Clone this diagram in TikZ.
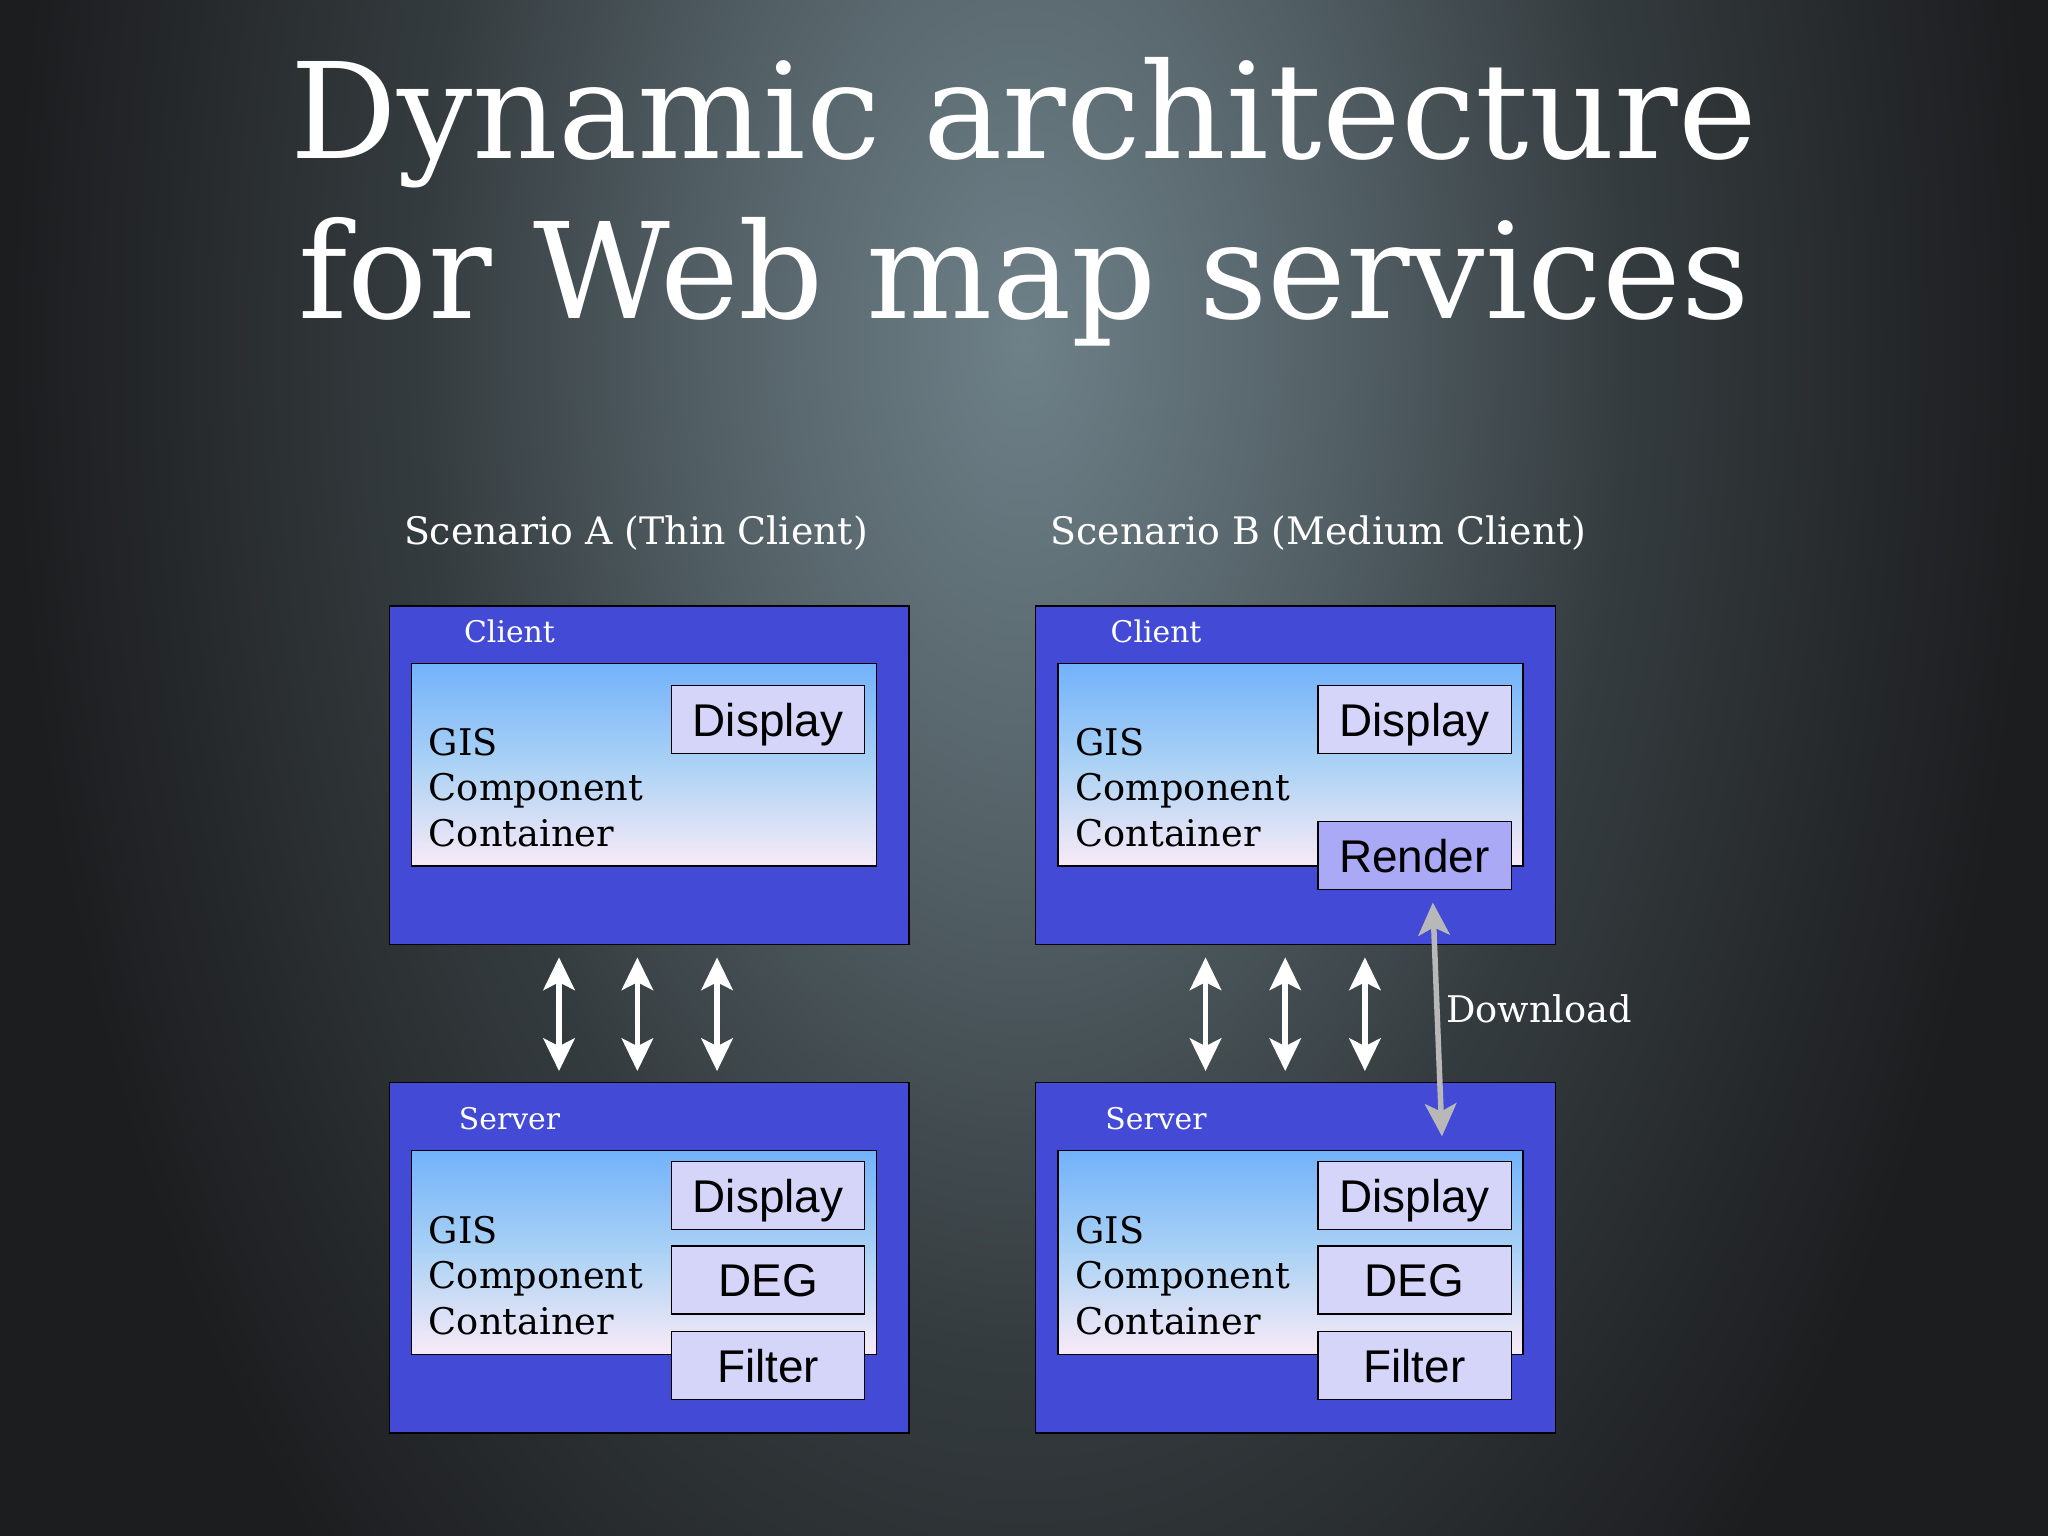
\documentclass[tikz,border=0pt]{standalone}
\usepackage{fontspec}
\setmainfont{DejaVu Serif}
\newfontfamily\helv{Liberation Sans}
\usetikzlibrary{arrows.meta}
\definecolor{bgA}{HTML}{6E8088}
\definecolor{bgB}{HTML}{56646A}
\definecolor{bgC}{HTML}{343B3E}
\definecolor{bgD}{HTML}{1C1D1F}
\definecolor{boxblue}{HTML}{434BD6}
\definecolor{gradtop}{HTML}{72B2FA}
\definecolor{gradmid}{HTML}{ABD2F5}
\definecolor{gradbot}{HTML}{F8EAF6}
\definecolor{complav}{HTML}{D5D5FA}
\definecolor{renderlav}{HTML}{A9A9F6}
\definecolor{dlgray}{HTML}{B8B8B8}
\pgfdeclareradialshading{bgshade}{\pgfpoint{0bp}{0bp}}{color(0bp)=(bgA); color(7bp)=(bgB); color(15bp)=(bgC); color(25bp)=(bgD); color(50bp)=(bgD)}
\begin{document}
\begin{tikzpicture}[x=0.02cm,y=-0.02cm,
  bw/.style={minimum width=#1*0.02cm},
  bh/.style={minimum height=#1*0.02cm},
  titletext/.style={text=white, font=\fontsize{58}{62}\selectfont, inner sep=0, anchor=base},
  scenlbl/.style={text=white, font=\fontsize{16.5}{19}\selectfont, inner sep=0, anchor=base west},
  boxlbl/.style={text=white, font=\fontsize{13}{15}\selectfont, inner sep=0, anchor=base west},
  outerbox/.style={draw=black, line width=0.6pt, fill=boxblue, inner sep=0, bw=398},
  innerbox/.style={draw=black, line width=0.6pt, top color=gradtop, bottom color=gradbot, middle color=gradmid, inner sep=0, bw=356},
  comp/.style={draw=black, line width=0.6pt, fill=complav, inner sep=0, bw=148, bh=52,
    text height=14.4pt, text depth=0pt, font=\helv\fontsize{20}{24}\selectfont},
  gistext/.style={align=left, inner sep=0, anchor=north west, font=\fontsize{16}{19.9}\selectfont},
  warrow/.style={draw=white, line width=2.4pt, arrows={Stealth[length=0.5cm,width=0.48cm,inset=0.12cm]-Stealth[length=0.5cm,width=0.48cm,inset=0.12cm]}},
  garrow/.style={draw=dlgray, line width=2.4pt, arrows={Stealth[length=0.5cm,width=0.48cm,inset=0.12cm]-Stealth[length=0.5cm,width=0.48cm,inset=0.12cm]}}
]
\useasboundingbox (0,0) rectangle (1568,1176);
\begin{scope}
\clip (0,0) rectangle (1568,1176);
\fill[bgD] (0,0) rectangle (1568,1176);
\shade[shading=bgshade] (784,260) ellipse [x radius=15.5cm, y radius=26cm];
\end{scope}

% title
\node[titletext] (t1) at (784,121) {Dynamic architecture};
\node[titletext] (t2) at (784,244) {for Web map services};

% scenario labels
\node[scenlbl] (sa) at (309,417) {Scenario A (Thin Client)};
\node[scenlbl] (sb) at (804,417) {Scenario B (Medium Client)};

% Scenario A client
\node[outerbox, bh=259] (clA) at (497,593.5) {};
\node[boxlbl] (clAl) at (355,492) {Client};
\node[innerbox, bh=155] (inA) at (493,585.5) {};
\node[comp] (dispA) at (588,551) {Display};
\node[gistext] (gisA) at (328,557) {GIS\\Component\\Container};

% Scenario B client
\node[outerbox, bh=259] (clB) at (992,593.5) {};
\node[boxlbl] (clBl) at (850,492) {Client};
\node[innerbox, bh=155] (inB) at (988,585.5) {};
\node[comp] (dispB) at (1083,551) {Display};
\node[comp, fill=renderlav] (rendB) at (1083,655) {Render};
\node[gistext] (gisB) at (823,557) {GIS\\Component\\Container};

% Scenario A server
\node[outerbox, bh=268] (svA) at (497,963) {};
\node[boxlbl] (svAl) at (351,865) {Server};
\node[innerbox, bh=156] (isA) at (493,959) {};
\node[comp] (sdispA) at (588,915.5) {Display};
\node[comp] (degA) at (588,980) {DEG};
\node[comp] (filtA) at (588,1045.5) {Filter};
\node[gistext] (sgisA) at (328,930.5) {GIS\\Component\\Container};

% Scenario B server
\node[outerbox, bh=268] (svB) at (992,963) {};
\node[boxlbl] (svBl) at (846,865) {Server};
\node[innerbox, bh=156] (isB) at (988,959) {};
\node[comp] (sdispB) at (1083,915.5) {Display};
\node[comp] (degB) at (1083,980) {DEG};
\node[comp] (filtB) at (1083,1045.5) {Filter};
\node[gistext] (sgisB) at (823,930.5) {GIS\\Component\\Container};

% request arrows
\coordinate (a1t) at (428,733); \coordinate (a1b) at (428,820);
\coordinate (a2t) at (488,733); \coordinate (a2b) at (488,820);
\coordinate (a3t) at (549,733); \coordinate (a3b) at (549,820);
\coordinate (b1t) at (923,733); \coordinate (b1b) at (923,820);
\coordinate (b2t) at (984,733); \coordinate (b2b) at (984,820);
\coordinate (b3t) at (1045,733); \coordinate (b3b) at (1045,820);
\draw[warrow] (a1t) -- (a1b);
\draw[warrow] (a2t) -- (a2b);
\draw[warrow] (a3t) -- (a3b);
\draw[warrow] (b1t) -- (b1b);
\draw[warrow] (b2t) -- (b2b);
\draw[warrow] (b3t) -- (b3b);

% download
\coordinate (dlt) at (1097,691);
\coordinate (dlb) at (1104,870);
\draw[garrow] (dlt) -- (dlb);
\node[scenlbl, font=\fontsize{16}{19}\selectfont] (dl) at (1107,783) {Download};
\end{tikzpicture}
\end{document}
